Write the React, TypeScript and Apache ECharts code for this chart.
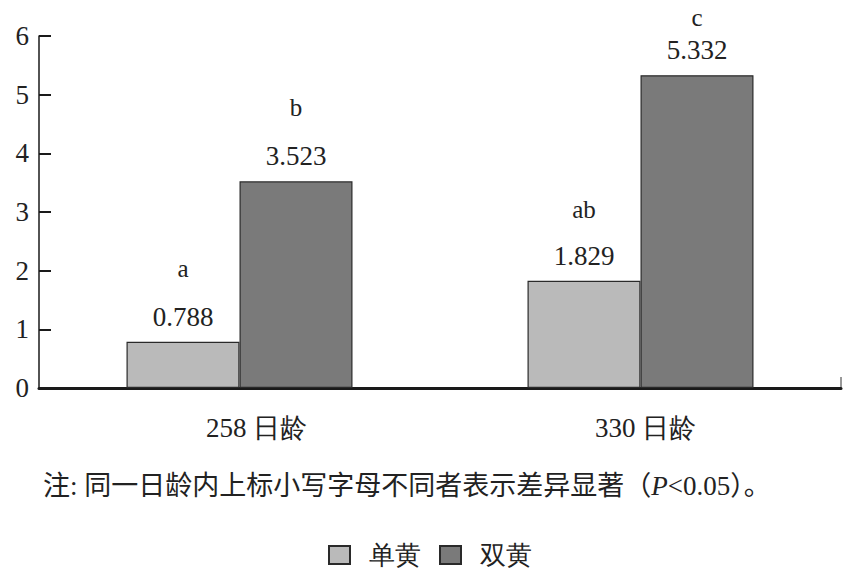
import React, { useEffect, useRef } from "react";
import * as echarts from "echarts";

const categories = ["258 日龄", "330 日龄"];
const seriesNames = ["单黄", "双黄"];
const singleValues = [0.788, 1.829];
const doubleValues = [3.523, 5.332];
const singleLetters = ["a", "ab"];
const doubleLetters = ["b", "c"];
const yTicks = [0, 1, 2, 3, 4, 5, 6];

// layout-only: vertical room reserved for the significance letter above each value label
const singleLetterLH = [70, 66];
const doubleLetterLH = [72, 40];
const categoryLabelShift = [34, 10];

const SERIF = "Liberation Serif";

function makeItems(values: number[], letters: string[], lhs: number[]) {
  return values.map((v, i) => ({
    value: v,
    label: {
      show: true,
      position: "top",
      distance: 12,
      formatter: `{l|${letters[i]}}\n{v|${v.toFixed(3)}}`,
      rich: {
        l: { fontSize: 25, fontFamily: SERIF, color: "#222", lineHeight: lhs[i] },
        v: { fontSize: 27, fontFamily: SERIF, color: "#222", lineHeight: 26 },
      },
    },
  }));
}

export default function App() {
  const ref = useRef<HTMLDivElement>(null);
  useEffect(() => {
    if (!ref.current) return;
    const chart = echarts.init(ref.current, null, { renderer: "svg" });
    chart.setOption({
      animation: false,
      backgroundColor: "#ffffff",
      textStyle: { fontFamily: SERIF },
      grid: { left: 39, right: 8, top: 36, bottom: 186, containLabel: false },
      legend: {
        data: seriesNames,
        left: 323,
        top: 537,
        icon: "rect",
        itemWidth: 21,
        itemHeight: 18,
        itemGap: 18,
        textStyle: {
          fontSize: 26,
          fontFamily: SERIF,
          color: "#222",
          padding: [0, 0, 0, 14],
        },
      },
      xAxis: {
        type: "category",
        data: categories.map((c, i) => ({
          value: c,
          textStyle: { padding: [0, 0, 0, categoryLabelShift[i]] },
        })),
        axisLine: { show: true, lineStyle: { color: "#1a1a1a", width: 3 } },
        axisTick: { show: false },
        axisLabel: { fontSize: 27, fontFamily: SERIF, color: "#222", margin: 26 },
        splitLine: { show: false },
      },
      yAxis: {
        type: "value",
        min: yTicks[0],
        max: yTicks[yTicks.length - 1],
        interval: 1,
        axisLine: { show: true, lineStyle: { color: "#1a1a1a", width: 1.5 } },
        axisTick: { show: true, inside: true, length: 12, lineStyle: { color: "#1a1a1a", width: 2 } },
        axisLabel: { fontSize: 27, fontFamily: SERIF, color: "#222", margin: 10 },
        splitLine: { show: false },
      },
      series: [
        {
          name: seriesNames[0],
          type: "bar",
          barWidth: 113,
          barGap: "0%",
          itemStyle: { color: "#bababa", borderColor: "#2a2a2a", borderWidth: 1.2 },
          data: makeItems(singleValues, singleLetters, singleLetterLH),
        },
        {
          name: seriesNames[1],
          type: "bar",
          barWidth: 113,
          barGap: "0%",
          itemStyle: { color: "#7a7a7a", borderColor: "#2a2a2a", borderWidth: 1.2 },
          data: makeItems(doubleValues, doubleLetters, doubleLetterLH),
        },
      ],
      graphic: [
        {
          type: "line",
          shape: { x1: 841, y1: 388, x2: 841, y2: 377 },
          style: { stroke: "#333", lineWidth: 1 },
        },
        {
          type: "text",
          left: 43,
          top: 472,
          style: {
            text: "注: 同一日龄内上标小写字母不同者表示差异显著（{i|P}<0.05）。",
            font: "27px 'Liberation Serif', 'Noto Sans CJK SC', serif",
            fill: "#222",
            rich: {
              i: {
                fontSize: 27,
                fontStyle: "italic",
                fontFamily: SERIF,
                fill: "#222",
              },
            },
          },
        },
      ],
    });
    return () => chart.dispose();
  }, []);
  return (
    <div
      ref={ref}
      style={{ position: "fixed", left: 0, top: 0, width: 849, height: 574, background: "#fff" }}
    />
  );
}
